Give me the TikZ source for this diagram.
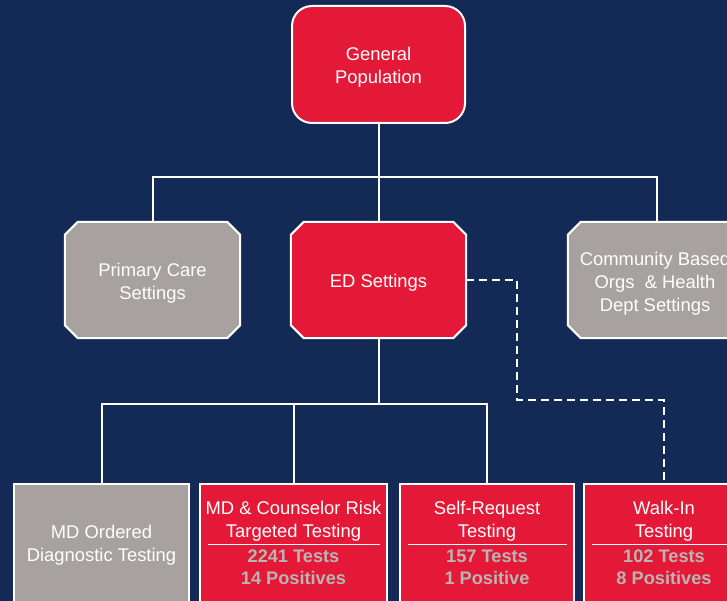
\documentclass[tikz,border=0pt]{standalone}
\usepackage{fontspec}
\setmainfont{Liberation Sans}
\usetikzlibrary{calc}
\definecolor{navy}{HTML}{132A56}
\definecolor{ered}{HTML}{E31937}
\definecolor{egray}{HTML}{A7A29F}
\definecolor{statc}{HTML}{B9B5B5}
\newcommand\chamfbox[2]{%
  \draw[draw=white, line width=2pt, fill=#2]
    ($(#1.north west)+(13,0)$) -- ($(#1.north east)+(-13,0)$) --
    ($(#1.north east)+(0,13)$) -- ($(#1.south east)+(0,-13)$) --
    ($(#1.south east)+(-13,0)$) -- ($(#1.south west)+(13,0)$) --
    ($(#1.south west)+(0,-13)$) -- ($(#1.north west)+(0,13)$) -- cycle;}
\begin{document}
\begin{tikzpicture}[x=1pt,y=-1pt,
  box/.style={draw=white, line width=2pt, text=white, align=center, inner sep=0pt},
  rbox/.style={box, rounded corners=20pt, fill=ered, minimum width=173pt, minimum height=117pt},
  cframe/.style={rectangle, inner sep=0pt, minimum width=175pt, minimum height=116pt},
  sqbox/.style={box, rectangle, minimum height=130pt},
  txt/.style={text=white, align=center, font=\fontsize{18.4}{22.8}\selectfont, inner sep=0pt},
  stat/.style={text=statc, align=center, font=\fontsize{18.2}{22}\selectfont\bfseries, inner sep=0pt},
  divider/.style={draw=white, line width=1pt},
  conn/.style={draw=white, line width=2pt},
  dconn/.style={draw=white, line width=2.3pt, dash pattern=on 8pt off 5pt}
]
\useasboundingbox (0,0) rectangle (727,601);
\clip (0,0) rectangle (727,601);
\fill[navy] (0,0) rectangle (727,601);

% top
\node[rbox] (gp) at (378.5,64.5) {};
\node[txt] (gpt) at (378.5,67.5) {General\\Population};

% middle row
\node[cframe] (pc) at (152.5,280) {};
\node[cframe] (ed) at (378.5,280) {};
\node[cframe, minimum width=178pt] (cb) at (657,280) {};
\chamfbox{pc}{egray}
\chamfbox{ed}{ered}
\chamfbox{cb}{egray}
\node[txt] (pct) at (152.5,283) {Primary Care\\Settings};
\node[txt] (edt) at (378.5,283) {ED Settings};
\node[txt] (cbt) at (655,283.5) {Community Based\\Orgs~ \& Health\\Dept Settings};

% bottom row
\node[sqbox, fill=egray, minimum width=175pt] (b1) at (101.5,549) {};
\node[sqbox, fill=ered, minimum width=187pt] (b2) at (293.5,549) {};
\node[sqbox, fill=ered, minimum width=174pt] (b3) at (487,549) {};
\node[sqbox, fill=ered, minimum width=160pt] (b4) at (664,549) {};

\node[txt] (b1t) at (101.5,545) {MD Ordered\\Diagnostic Testing};

\node[txt] (b2t) at (293.5,521.5) {MD \& Counselor Risk\\Targeted Testing};
\node[stat] (b2s) at (293.5,567.5) {2241 Tests\\14 Positives};
\draw[divider] ($(b2.north west)+(9,61)$) -- ($(b2.north east)+(-8,61)$);

\node[txt] (b3t) at (487,521.5) {Self-Request\\Testing};
\node[stat] (b3s) at (487,567.5) {157 Tests\\1 Positive};
\draw[divider] ($(b3.north west)+(9,61)$) -- ($(b3.north east)+(-8,61)$);

\node[txt] (b4t) at (664,521.5) {Walk-In\\Testing};
\node[stat] (b4s) at (664,567.5) {102 Tests\\8 Positives};
\draw[divider] ($(b4.north west)+(9,61)$) -- ($(b4.north east)+(-8,61)$);

% connectors
\coordinate (j1) at (378.5,177);
\draw[conn] (gp.south) -- (j1);
\draw[conn] (pc.north) |- (j1) -| (cb.north);
\draw[conn] (j1) -- (ed.north);

\coordinate (j2) at (378.5,404);
\draw[conn] (ed.south) -- (j2);
\draw[conn] (b1.north) |- (j2) -| (b3.north);
\draw[conn] (b2.north) -- (b2.north |- j2);

\coordinate (d1) at (517,400);
\draw[dconn] (ed.east) -| (d1) -| (b4.north);
\end{tikzpicture}
\end{document}
